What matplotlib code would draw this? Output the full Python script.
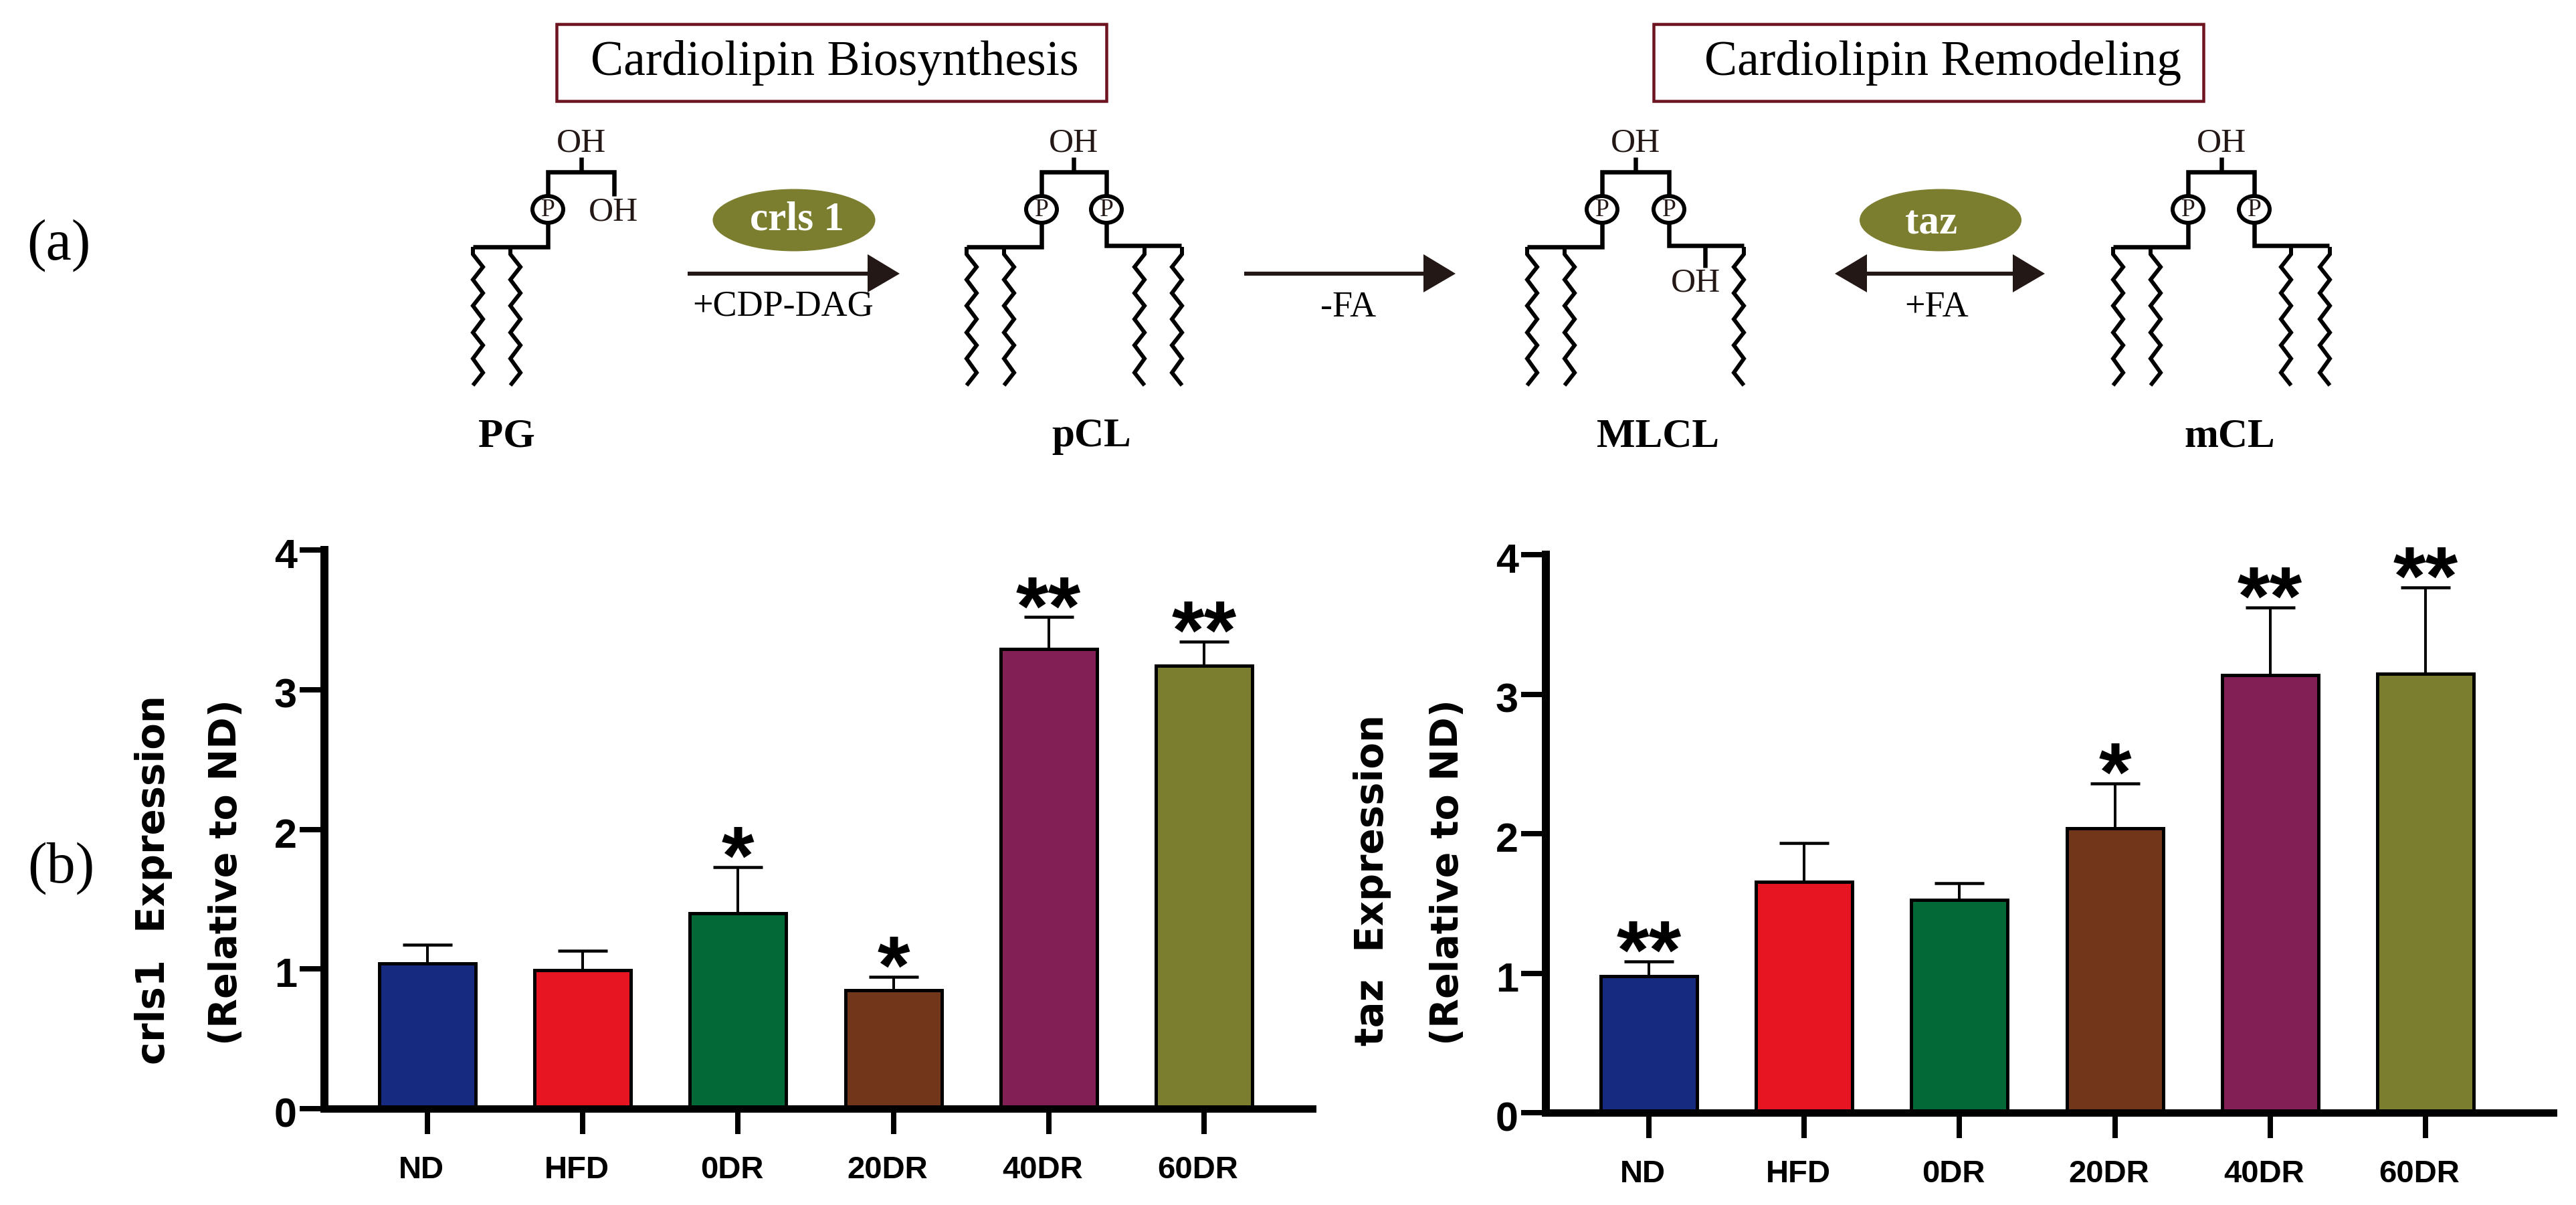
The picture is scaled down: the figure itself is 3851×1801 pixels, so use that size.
import matplotlib
matplotlib.use("Agg")
import matplotlib.pyplot as plt
from matplotlib.patches import Ellipse, Polygon, Rectangle
from matplotlib.transforms import ScaledTranslation

W, H = 3851, 1801
PX = 0.72  # one pixel in points at dpi 100

# chart data
groups = ["ND", "HFD", "0DR", "20DR", "40DR", "60DR"]
bar_colors = ["#162A80", "#E71522", "#036A37", "#72361A", "#821F55", "#7C7E2F"]

crls1_values = [1.04, 0.99, 1.40, 0.85, 3.29, 3.17]
crls1_errors = [0.136, 0.14, 0.33, 0.095, 0.23, 0.175]
crls1_stars = ["", "", "*", "*", "**", "**"]

taz_values = [0.98, 1.654, 1.526, 2.037, 3.136, 3.148]
taz_errors = [0.106, 0.28, 0.121, 0.322, 0.486, 0.618]
taz_stars = ["**", "", "", "*", "**", "**"]

y_ticks = [0, 1, 2, 3, 4]

# pathway diagram, in image pixels
INK = "#231815"
OLIVE = "#7C7E2F"
MAROON = "#6E1420"
box_spans = [(832, 1654), (2472, 3294)]
box_titles = [("Cardiolipin Biosynthesis", 1248), ("Cardiolipin Remodeling", 2904)]
lipid_names = [("PG", 757), ("pCL", 1632), ("MLCL", 2479), ("mCL", 3333)]
zig_xs = [0, 15, 0, 15, 0, 15, 0, 15, 0, 15, 0]
zig_ys = [380, 399, 418, 438, 457, 477, 497, 516, 536, 557, 576]

fig = plt.figure(figsize=(W / 100, H / 100), dpi=100, facecolor="white")
dg = fig.add_axes([0, 0, 1, 1])
dg.set_xlim(0, W)
dg.set_ylim(H, 0)
dg.axis("off")

SERIF = "Liberation Serif"
SANS = "Liberation Sans"


def line(xs, ys, lw=6.5, color="black"):
    dg.plot(xs, ys, color=color, lw=lw * PX, solid_capstyle="butt", solid_joinstyle="miter")


def chain(x, direction=1):
    line([x, x] + [x + direction * v for v in zig_xs], [369, 380] + zig_ys, lw=6.0)


def phosphate(x):
    dg.add_patch(Ellipse((x, 313), 46, 40, fc="white", ec="black", lw=6 * PX, zorder=4))
    dg.text(x, 314, "P", family=SERIF, fontsize=27, color=INK, ha="center", va="center", zorder=5)


def oh(x, y):
    dg.text(x, y, "OH", family=SERIF, fontsize=37, color=INK, ha="center", va="center")


def arrow(x0, x1, left_head=False):
    line([x0, x1], [409, 409], lw=6.0, color=INK)
    dg.add_patch(Polygon([[x1 - 1, 380], [x1 + 47, 409], [x1 - 1, 437]], fc=INK, ec="none"))
    if left_head:
        dg.add_patch(Polygon([[x0 + 1, 380], [x0 - 47, 409], [x0 + 1, 437]], fc=INK, ec="none"))


for x0, x1 in box_spans:
    dg.add_patch(Rectangle((x0, 36), x1 - x0, 115, fc="white", ec=MAROON, lw=4.5 * PX))
for title, cx in box_titles:
    dg.text(cx, 94, title, family=SERIF, fontsize=53, color="black", ha="center", va="center")

# PG
line([819, 819, 918, 918], [313, 257, 257, 293])
line([869, 869], [235, 257])
line([819, 819, 707], [313, 369, 369])
chain(707)
chain(763)
phosphate(819)
oh(869, 214)
oh(917, 317)

# pCL, MLCL, mCL share the same head group
for left, right, top in [(1557, 1654, 1605), (2395, 2495, 2445), (3271, 3370, 3321)]:
    line([left, left, right, right], [313, 257, 257, 313])
    line([top, top], [235, 257])
    line([left, left, left - 112], [313, 369, 369])
    line([right, right, right + 112], [313, 367, 367])
    chain(left - 112)
    chain(left - 56)
    phosphate(left)
    phosphate(right)
    oh(top, 214)

chain(1711, -1)
chain(1767, -1)
chain(2607, -1)
line([2549, 2549], [367, 400])
oh(2535, 423)
chain(3425, -1)
chain(3483, -1)

for name, cx in lipid_names:
    dg.text(cx, 652, name, family=SERIF, weight="bold", fontsize=44, color="black", ha="center", va="center")

arrow(1028, 1298)
arrow(1860, 2129)
arrow(2790, 3010, left_head=True)
dg.add_patch(Ellipse((1187, 329), 243, 93, fc=OLIVE, ec="none"))
dg.add_patch(Ellipse((2901, 329), 242, 93, fc=OLIVE, ec="none"))
dg.text(1191, 329, "crls 1", family=SERIF, weight="bold", fontsize=44, color="white", ha="center", va="center")
dg.text(2887, 335, "taz", family=SERIF, weight="bold", fontsize=44, color="white", ha="center", va="center")
dg.text(1171, 458, "+CDP-DAG", family=SERIF, fontsize=39, color="black", ha="center", va="center")
dg.text(2016, 460, "-FA", family=SERIF, fontsize=39, color="black", ha="center", va="center")
dg.text(2895, 460, "+FA", family=SERIF, fontsize=39, color="black", ha="center", va="center")
dg.text(88, 367, "(a)", family=SERIF, fontsize=62, color="black", ha="center", va="center")
dg.text(91, 1298, "(b)", family=SERIF, fontsize=62, color="black", ha="center", va="center")


def bar_panel(x0, x1, y_top, y_zero, first, values, errors, stars, label1, label2, lab1_x, lab2_x, lab_y):
    ax = fig.add_axes([x0 / W, 1 - y_zero / H, (x1 - x0) / W, (y_zero - y_top) / H], facecolor="none")
    step = 232.2
    ax.set_xlim((x0 - first) / step, (x1 - first) / step)
    ax.set_ylim(0, 4)
    pos = list(range(len(groups)))
    ax.errorbar(pos, values, yerr=[[0] * len(errors), errors], fmt="none", ecolor="black",
                elinewidth=4 * PX, capsize=37 * PX, capthick=4.5 * PX, zorder=2)
    ax.bar(pos, values, width=0.62, color=bar_colors, edgecolor="black", linewidth=5 * PX, zorder=3)
    for i, s in enumerate(stars):
        if s:
            ax.annotate(s, xy=(i, values[i] + errors[i]), xytext=(0, -26 * PX), textcoords="offset points",
                        family=SANS, weight="bold", fontsize=90, ha="center", va="baseline", color="black")
    ax.spines["top"].set_visible(False)
    ax.spines["right"].set_visible(False)
    ax.spines["left"].set_linewidth(12 * PX)
    ax.spines["bottom"].set_linewidth(11 * PX)
    for sp in ax.spines.values():
        sp.set_zorder(5)
    ax.set_xticks(pos)
    ax.set_xticklabels(groups, family=SANS, weight="bold", fontsize=34)
    ax.set_yticks(y_ticks)
    ax.set_yticklabels([str(t) for t in y_ticks], family=SANS, weight="bold", fontsize=44)
    ax.tick_params(axis="x", length=38 * PX, width=8 * PX, pad=32 * PX)
    ax.tick_params(axis="y", length=37 * PX, width=8 * PX, pad=4 * PX)
    shift = ScaledTranslation(-9 / 100, 0, fig.dpi_scale_trans)
    for t in ax.get_xticklabels():
        t.set_transform(t.get_transform() + shift)
    down = ScaledTranslation(0, -5 / 100, fig.dpi_scale_trans)
    for t in ax.get_yticklabels():
        t.set_transform(t.get_transform() + down)
    dg.text(lab1_x, lab_y + 11, label1, family="DejaVu Sans", weight="bold", fontsize=41.5, rotation=90,
            ha="center", va="center", color="black")
    dg.text(lab2_x, lab_y, label2, family="DejaVu Sans", weight="bold", fontsize=41, rotation=90,
            ha="center", va="center", color="black")
    return ax


bar_panel(485, 1962, 822, 1657, 639, crls1_values, crls1_errors, crls1_stars,
          "crls1  Expression", "(Relative to ND)", 230, 338, 1304)
bar_panel(2311, 3817, 829, 1663, 2465, taz_values, taz_errors, taz_stars,
          "taz  Expression", "(Relative to ND)", 2051, 2165, 1304)

fig.savefig("out.png", dpi=100)
